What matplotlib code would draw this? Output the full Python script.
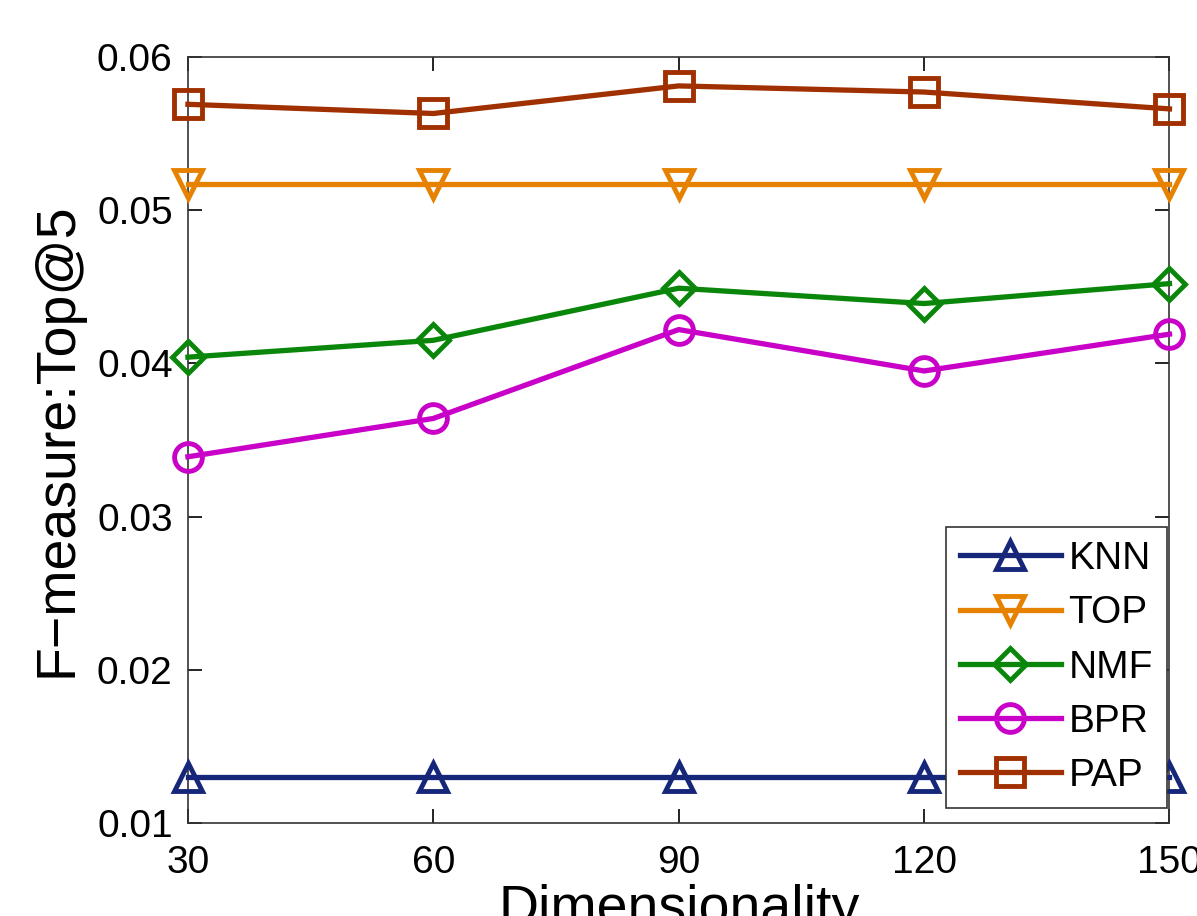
import matplotlib.pyplot as plt

# data
dims = [30, 60, 90, 120, 150]
knn = [0.0130, 0.0130, 0.0130, 0.0130, 0.0130]
top = [0.0517, 0.0517, 0.0517, 0.0517, 0.0517]
nmf = [0.0404, 0.0415, 0.0449, 0.0439, 0.0452]
bpr = [0.0339, 0.0364, 0.0422, 0.0395, 0.0419]
pap = [0.0569, 0.0563, 0.0581, 0.0577, 0.0566]

plt.rcParams['font.family'] = ['Liberation Sans', 'DejaVu Sans']

fig = plt.figure(figsize=(11.97, 9.16), dpi=100)
ax = fig.add_axes([0.157, 0.1015, 0.82, 0.8365])

series = [
    ('KNN', knn, '#16277a', '^'),
    ('TOP', top, '#e68200', 'v'),
    ('NMF', nmf, '#0a870a', 'D'),
    ('BPR', bpr, '#c800c8', 'o'),
    ('PAP', pap, '#a03000', 's'),
]
for name, vals, col, mk in series:
    ms = 16 if mk == 'D' else 20
    ax.plot(dims, vals, color=col, marker=mk, markersize=ms, markerfacecolor='none',
            markeredgewidth=3.5, linewidth=3.8, label=name, clip_on=False, zorder=3)

ax.set_xlim(30, 150)
ax.set_ylim(0.01, 0.06)
ax.set_xticks(dims)
ax.set_yticks([0.01, 0.02, 0.03, 0.04, 0.05, 0.06])
ax.set_yticklabels(['0.01', '0.02', '0.03', '0.04', '0.05', '0.06'])
ax.tick_params(direction='in', top=True, right=True, length=10, width=1.2,
               labelsize=28)
ax.tick_params(axis='y', pad=11)
ax.tick_params(axis='x', pad=16)
for sp in ax.spines.values():
    sp.set_linewidth(1.2)
    sp.set_color('#333333')

ax.set_xlabel('Dimensionality', fontsize=40, labelpad=2)
ax.set_ylabel('F\u2212measure:Top@5', fontsize=40, labelpad=10)

leg = ax.legend(loc='lower right', bbox_to_anchor=(0.997, 0.02), fontsize=28,
                fancybox=False, framealpha=1, edgecolor='#333333',
                handlelength=2.6, handletextpad=0.2, borderpad=0.35,
                labelspacing=0.47, borderaxespad=0)
leg.get_frame().set_linewidth(1.2)
leg.set_zorder(5)

fig.savefig('out.png', dpi=100)
